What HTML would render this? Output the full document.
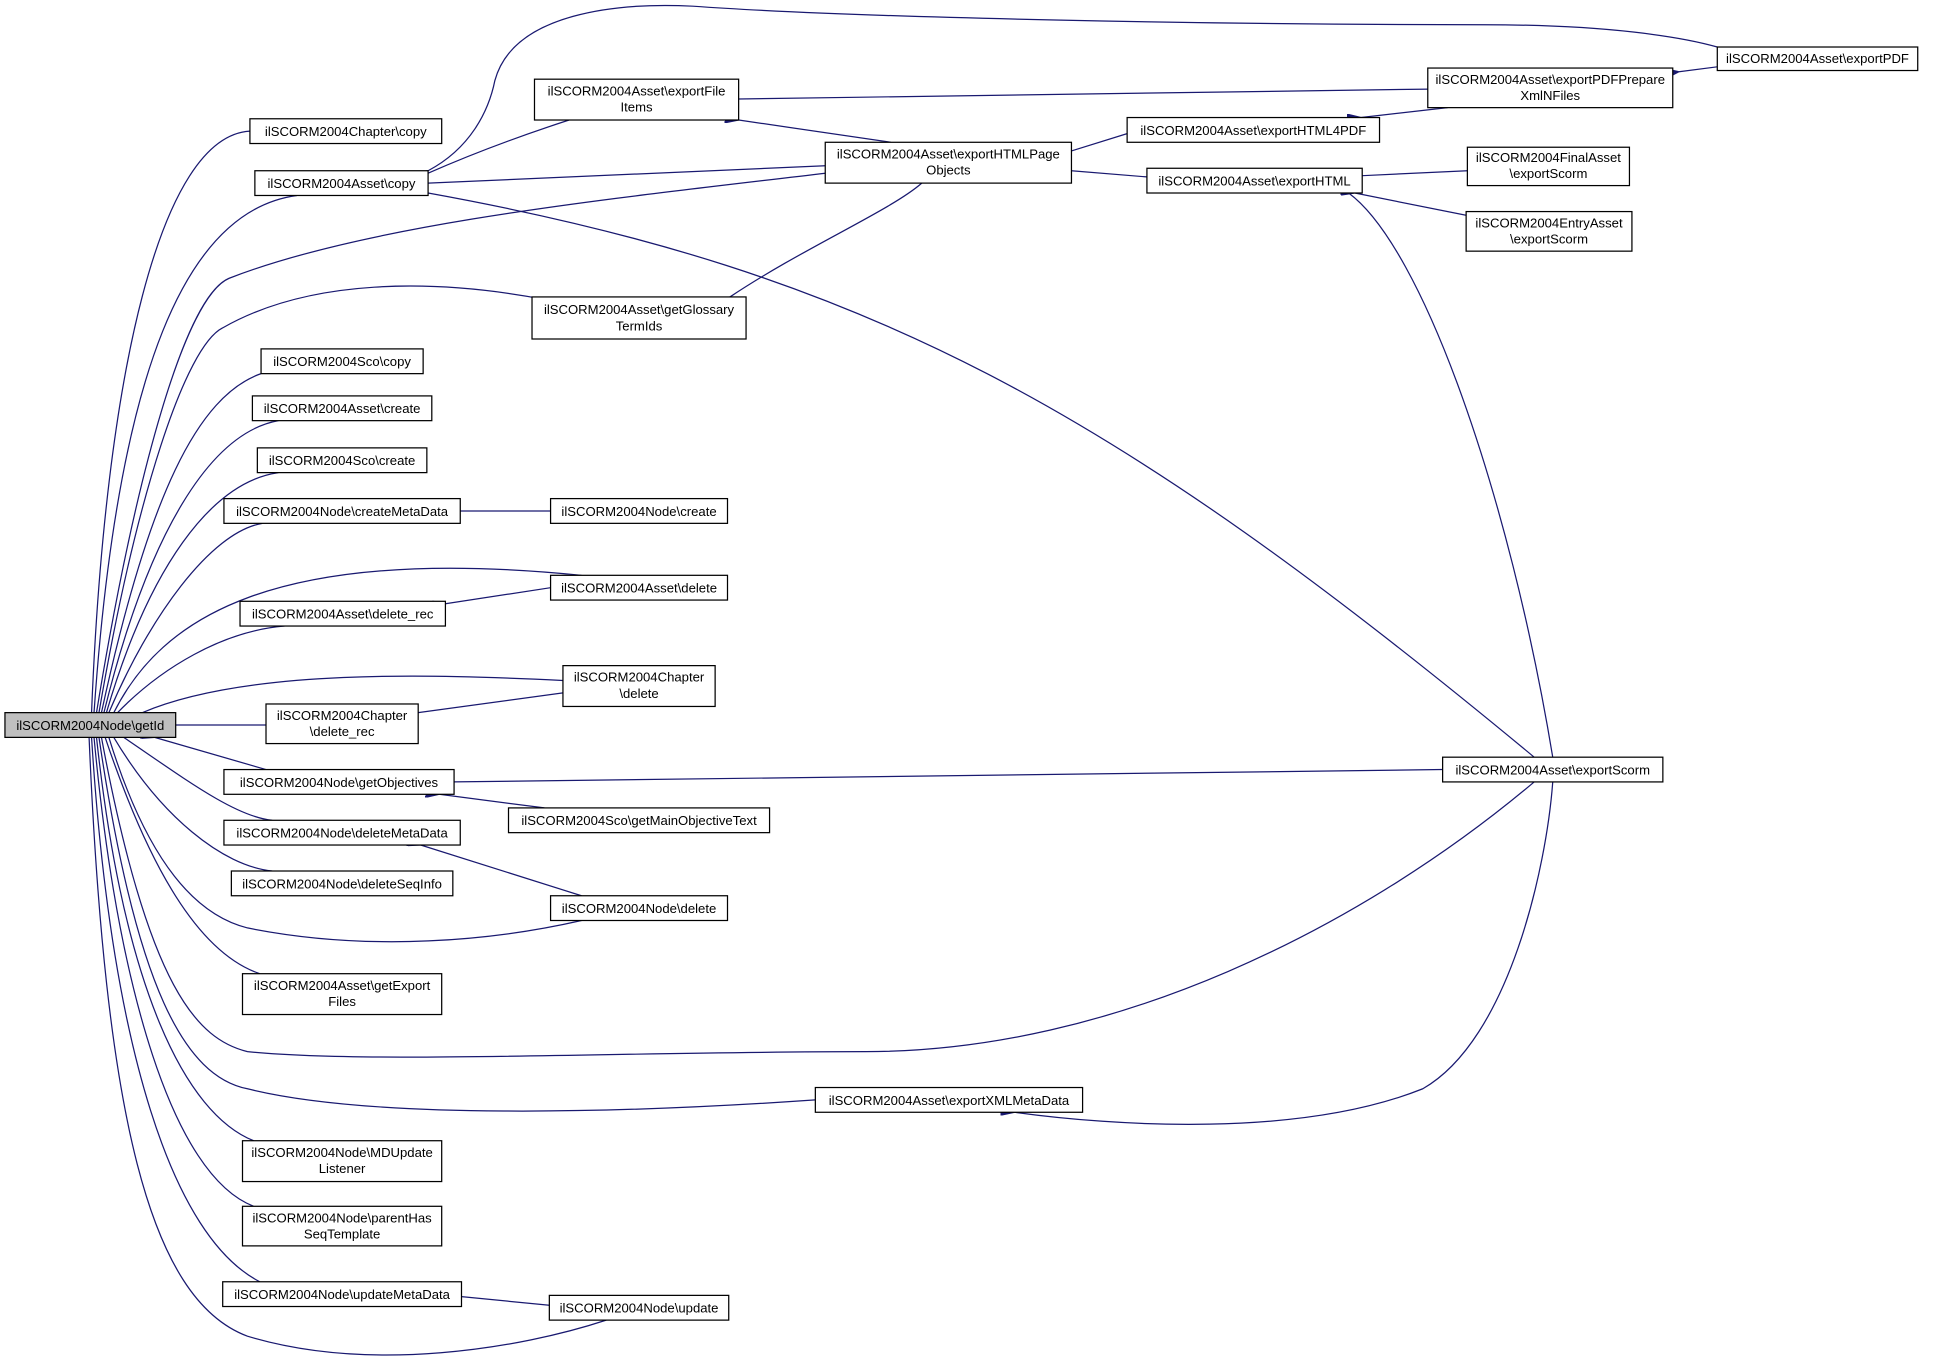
<!DOCTYPE html>
<html><head><meta charset="utf-8"><style>
html,body{margin:0;padding:0;background:#fff;}
svg{display:block;}
text{font-family:"Liberation Sans",Helvetica,Arial,sans-serif;font-size:10.6px;fill:#000;text-anchor:middle;}
rect{fill:#fff;stroke:#000;stroke-width:1;}
path{fill:none;stroke:#191970;stroke-width:1;}
</style></head><body>
<svg width="1940" height="1368" viewBox="0 0 1568 1105.7" preserveAspectRatio="none" xmlns="http://www.w3.org/2000/svg">
<defs><marker id="a" markerWidth="11" markerHeight="8" refX="0" refY="4" orient="auto-start-reverse" markerUnits="userSpaceOnUse"><path d="M0,4 L11,0 L11,8 Z" style="fill:#191970;stroke:#191970"/></marker></defs>
<g marker-start="url(#a)">
<path d="M74,576 C85,300 130,110 202,106"/>
<path d="M76,576 C95,300 150,170 240,158"/>
<path d="M78,576 C110,380 150,240 185,225 C300,180 500,160 667,140"/>
<path d="M80,576 C110,400 150,280 180,265 C250,225 350,225 440,242"/>
<path d="M82,576 C120,400 160,320 211,302"/>
<path d="M84,576 C120,430 170,350 225,340"/>
<path d="M86,576 C120,460 170,390 225,382"/>
<path d="M88,576 C120,500 170,430 212,423"/>
<path d="M92,576 C130,500 220,440 470,465"/>
<path d="M95,576 C130,540 180,510 230,506"/>
<path d="M115,576 C200,540 350,545 455,550"/>
<path d="M142,586 L215,586"/>
<path d="M125,596 L215,622"/>
<path d="M100,596 C150,630 190,660 220,663"/>
<path d="M92,596 C130,660 180,700 220,704"/>
<path d="M88,596 C120,700 160,740 200,750 C300,770 400,760 470,744"/>
<path d="M85,596 C120,700 160,770 210,787"/>
<path d="M82,596 C120,800 160,840 200,850 C300,860 500,850 700,850 C900,850 1100,750 1240,632"/>
<path d="M80,596 C110,800 150,870 200,880 C300,905 500,900 659,889"/>
<path d="M78,596 C100,800 150,900 205,922"/>
<path d="M76,596 C95,800 140,950 205,975"/>
<path d="M74,596 C90,850 140,1000 210,1036"/>
<path d="M72,596 C85,900 120,1050 200,1080 C300,1110 420,1090 490,1067"/>
<path d="M346,140 C380,125 420,110 460,97"/>
<path d="M346,148 L667,134"/>
<path d="M346,138 C380,120 395,90 400,65 C415,10 500,2 560,5 C700,15 1000,20 1200,20 C1300,20 1360,30 1388,38"/>
<path d="M346,156 C700,220 900,330 1240,612"/>
<path d="M597,97 L720,115"/>
<path d="M597,80 L1155,72"/>
<path d="M590,240 C650,200 720,170 745,148"/>
<path d="M372,413 L445,413"/>
<path d="M360,488 L445,475"/>
<path d="M338,576 L455,560"/>
<path d="M367,632 L1166,622"/>
<path d="M355,642 L440,653"/>
<path d="M340,683 L470,724"/>
<path d="M373,1048 L444,1055"/>
<path d="M866,122 L911,108"/>
<path d="M866,138 L927,143"/>
<path d="M1100,95 L1170,87"/>
<path d="M1357,58 L1388,54"/>
<path d="M1101,142 L1186,138"/>
<path d="M1095,156 L1190,175"/>
<path d="M1090,156 C1150,200 1220,400 1255,612"/>
<path d="M820,899 C900,910 1050,920 1150,880 C1220,840 1250,700 1255,632"/>
</g>
<g>
<rect x="4" y="576" width="138" height="20" style="fill:#bfbfbf"/><text x="73" y="590">ilSCORM2004Node\getId</text>
<rect x="202" y="96" width="155" height="20"/><text x="279.5" y="110">ilSCORM2004Chapter\copy</text>
<rect x="206" y="138" width="140" height="20"/><text x="276" y="152">ilSCORM2004Asset\copy</text>
<rect x="432" y="64" width="165" height="33"/><text x="514.5" y="77">ilSCORM2004Asset\exportFile</text><text x="514.5" y="90">Items</text>
<rect x="430" y="240" width="173" height="34"/><text x="516.5" y="254">ilSCORM2004Asset\getGlossary</text><text x="516.5" y="267">TermIds</text>
<rect x="211" y="282" width="131" height="20"/><text x="276.5" y="296">ilSCORM2004Sco\copy</text>
<rect x="204" y="320" width="145" height="20"/><text x="276.5" y="334">ilSCORM2004Asset\create</text>
<rect x="208" y="362" width="137" height="20"/><text x="276.5" y="376">ilSCORM2004Sco\create</text>
<rect x="181" y="403" width="191" height="20"/><text x="276.5" y="417">ilSCORM2004Node\createMetaData</text>
<rect x="445" y="403" width="143" height="20"/><text x="516.5" y="417">ilSCORM2004Node\create</text>
<rect x="194" y="486" width="166" height="20"/><text x="277" y="500">ilSCORM2004Asset\delete_rec</text>
<rect x="445" y="465" width="143" height="20"/><text x="516.5" y="479">ilSCORM2004Asset\delete</text>
<rect x="455" y="538" width="123" height="33"/><text x="516.5" y="551">ilSCORM2004Chapter</text><text x="516.5" y="564">\delete</text>
<rect x="215" y="569" width="123" height="32"/><text x="276.5" y="582">ilSCORM2004Chapter</text><text x="276.5" y="595">\delete_rec</text>
<rect x="181" y="622" width="186" height="20"/><text x="274" y="636">ilSCORM2004Node\getObjectives</text>
<rect x="411" y="653" width="211" height="20"/><text x="516.5" y="667">ilSCORM2004Sco\getMainObjectiveText</text>
<rect x="181" y="663" width="191" height="20"/><text x="276.5" y="677">ilSCORM2004Node\deleteMetaData</text>
<rect x="187" y="704" width="179" height="20"/><text x="276.5" y="718">ilSCORM2004Node\deleteSeqInfo</text>
<rect x="445" y="724" width="143" height="20"/><text x="516.5" y="738">ilSCORM2004Node\delete</text>
<rect x="196" y="787" width="161" height="33"/><text x="276.5" y="800">ilSCORM2004Asset\getExport</text><text x="276.5" y="813">Files</text>
<rect x="659" y="879" width="216" height="20"/><text x="767" y="893">ilSCORM2004Asset\exportXMLMetaData</text>
<rect x="196" y="922" width="161" height="33"/><text x="276.5" y="935">ilSCORM2004Node\MDUpdate</text><text x="276.5" y="948">Listener</text>
<rect x="196" y="975" width="161" height="32"/><text x="276.5" y="988">ilSCORM2004Node\parentHas</text><text x="276.5" y="1001">SeqTemplate</text>
<rect x="180" y="1036" width="193" height="20"/><text x="276.5" y="1050">ilSCORM2004Node\updateMetaData</text>
<rect x="444" y="1047" width="145" height="20"/><text x="516.5" y="1061">ilSCORM2004Node\update</text>
<rect x="667" y="115" width="199" height="33"/><text x="766.5" y="128">ilSCORM2004Asset\exportHTMLPage</text><text x="766.5" y="141">Objects</text>
<rect x="911" y="95" width="204" height="20"/><text x="1013" y="109">ilSCORM2004Asset\exportHTML4PDF</text>
<rect x="927" y="136" width="174" height="20"/><text x="1014" y="150">ilSCORM2004Asset\exportHTML</text>
<rect x="1154" y="55" width="198" height="32"/><text x="1253" y="68">ilSCORM2004Asset\exportPDFPrepare</text><text x="1253" y="81">XmlNFiles</text>
<rect x="1388" y="38" width="162" height="19"/><text x="1469" y="51">ilSCORM2004Asset\exportPDF</text>
<rect x="1186" y="119" width="131" height="31"/><text x="1251.5" y="131">ilSCORM2004FinalAsset</text><text x="1251.5" y="144">\exportScorm</text>
<rect x="1185" y="171" width="134" height="32"/><text x="1252" y="184">ilSCORM2004EntryAsset</text><text x="1252" y="197">\exportScorm</text>
<rect x="1166" y="612" width="178" height="20"/><text x="1255" y="626">ilSCORM2004Asset\exportScorm</text>
</g>
</svg>
</body></html>
